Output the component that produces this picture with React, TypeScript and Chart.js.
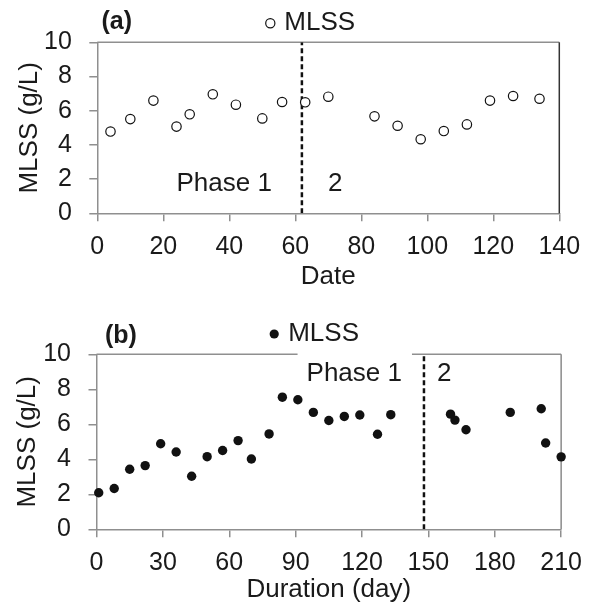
import React, { useEffect, useRef } from 'react';
import { Chart, registerables } from 'chart.js';

Chart.register(...registerables);

// ---------- data ----------
const DAYS_A = [4, 10, 17, 24, 28, 35, 42, 50, 56, 63, 70, 84, 91, 98, 105, 112, 119, 126, 134];
const MLSS_A = [4.78, 5.51, 6.59, 5.07, 5.79, 6.96, 6.35, 5.55, 6.51, 6.49, 6.82, 5.67, 5.12, 4.33, 4.81, 5.2, 6.59, 6.86, 6.7];
const BOUNDARY_A = 62;

const DAYS_B = [1, 8, 15, 22, 29, 36, 43, 50, 57, 64, 70, 78, 84, 91, 98, 105, 112, 119, 127, 133, 160, 162, 167, 187, 201, 203, 210];
const MLSS_B = [2.09, 2.33, 3.43, 3.64, 4.89, 4.42, 3.03, 4.15, 4.5, 5.07, 4.02, 5.45, 7.55, 7.4, 6.68, 6.22, 6.45, 6.53, 5.43, 6.55, 6.58, 6.24, 5.69, 6.68, 6.89, 4.93, 4.14];
const BOUNDARY_B = 148;

const Y_MIN = 0;
const Y_MAX = 10;
const Y_STEP = 2;
const X_MAX_A = 140;
const X_STEP_A = 20;
const X_MAX_B = 210;
const X_STEP_B = 30;

const SERIES_LABEL = 'MLSS';
const Y_TITLE = 'MLSS (g/L)';
const X_TITLE_A = 'Date';
const X_TITLE_B = 'Duration (day)';
const PHASE_LABELS = ['Phase 1', '2'];

// ---------- styling ----------
const FONT = '"Liberation Sans", Arial, Helvetica, sans-serif';
const TEXT = '#1a1a1a';
const AXIS = '#8f8f8f';

type Panel = {
  tag: string;
  days: number[];
  mlss: number[];
  boundary: number;
  xMax: number;
  xStep: number;
  xTitle: string;
  filled: boolean;
  height: number;
  padTop: number;
  padRight: number;
  yAxisW: number;
  xAxisH: number;
  yTitlePad: number;
  xTitlePad: number;
  rightColor: string;
  tagPos: [number, number];
  legendPos: [number, number];
  phaseY: number;
  phaseLeftGap: number;
  phaseRightGap: number;
  phaseBox: boolean;
};

const PANELS: Panel[] = [
  {
    tag: '(a)', days: DAYS_A, mlss: MLSS_A, boundary: BOUNDARY_A,
    xMax: X_MAX_A, xStep: X_STEP_A, xTitle: X_TITLE_A, filled: false,
    height: 300, padTop: 42.3, padRight: 593 - 559.3, yAxisW: 97.3, xAxisH: 300 - 213.3,
    yTitlePad: 14.4, xTitlePad: 8, rightColor: '#333333',
    tagPos: [101.5, 22.5], legendPos: [270.3, 23.3],
    phaseY: 1.74, phaseLeftGap: 30, phaseRightGap: 26, phaseBox: false,
  },
  {
    tag: '(b)', days: DAYS_B, mlss: MLSS_B, boundary: BOUNDARY_B,
    xMax: X_MAX_B, xStep: X_STEP_B, xTitle: X_TITLE_B, filled: true,
    height: 306, padTop: 54.3, padRight: 593 - 562.5, yAxisW: 96.5, xAxisH: 306 - 229.3,
    yTitlePad: 12.7, xTitlePad: 0.5, rightColor: '#8a8a8a',
    tagPos: [105, 36.3], legendPos: [274.2, 34],
    phaseY: 8.9, phaseLeftGap: 22, phaseRightGap: 13, phaseBox: true,
  },
];

function makeDecor(p: Panel) {
  return {
    id: 'decor' + p.tag,
    beforeDatasetsDraw(chart: any) {
      const { ctx, chartArea } = chart;
      const { left, top, right, bottom } = chartArea;
      const xs = chart.scales.x;
      const ys = chart.scales.y;
      ctx.save();
      // top & right frame
      ctx.lineWidth = 1.5;
      ctx.strokeStyle = AXIS;
      ctx.beginPath();
      ctx.moveTo(left, top);
      ctx.lineTo(right, top);
      ctx.stroke();
      ctx.strokeStyle = p.rightColor;
      ctx.beginPath();
      ctx.moveTo(right, top);
      ctx.lineTo(right, bottom);
      ctx.stroke();

      // phase labels
      const bx = xs.getPixelForValue(p.boundary);
      const py = ys.getPixelForValue(p.phaseY);
      ctx.font = `26px ${FONT}`;
      ctx.textBaseline = 'middle';
      const w1 = ctx.measureText(PHASE_LABELS[0]).width;
      const x1 = bx - p.phaseLeftGap - w1;
      if (p.phaseBox) {
        ctx.fillStyle = '#ffffff';
        ctx.fillRect(x1 - 9, top - 2, w1 + 19, py - top + 16);
      }
      ctx.fillStyle = TEXT;
      ctx.textAlign = 'left';
      ctx.fillText(PHASE_LABELS[0], x1, py);
      ctx.fillText(PHASE_LABELS[1], bx + p.phaseRightGap, py);
      ctx.restore();
    },
    afterDraw(chart: any) {
      const { ctx } = chart;
      ctx.save();
      ctx.fillStyle = TEXT;
      ctx.textBaseline = 'middle';
      ctx.textAlign = 'left';
      ctx.font = `bold 25px ${FONT}`;
      ctx.fillText(p.tag, p.tagPos[0], p.tagPos[1]);
      // legend
      const [lx, ly] = p.legendPos;
      ctx.beginPath();
      ctx.arc(lx, ly, 4.6, 0, Math.PI * 2);
      if (p.filled) {
        ctx.fillStyle = '#111111';
        ctx.fill();
      } else {
        ctx.fillStyle = '#ffffff';
        ctx.fill();
        ctx.lineWidth = 1.2;
        ctx.strokeStyle = '#111111';
        ctx.stroke();
      }
      ctx.fillStyle = TEXT;
      ctx.font = `26px ${FONT}`;
      ctx.fillText(SERIES_LABEL, lx + 14, ly - 0.5);
      ctx.restore();
    },
  };
}

function makeConfig(p: Panel): any {
  const tickFont = { family: FONT, size: 25 };
  const titleFont = { family: FONT, size: 26 };
  return {
    type: 'scatter',
    data: {
      datasets: [
        {
          label: SERIES_LABEL,
          data: p.days.map((d, i) => ({ x: d, y: p.mlss[i] })),
          pointRadius: 4.7,
          pointHoverRadius: 4.7,
          pointBackgroundColor: p.filled ? '#111111' : '#ffffff',
          pointBorderColor: '#111111',
          pointBorderWidth: p.filled ? 0 : 1.2,
          clip: false,
        },
        {
          label: 'boundary',
          type: 'line',
          data: [
            { x: p.boundary, y: Y_MIN },
            { x: p.boundary, y: Y_MAX },
          ],
          borderColor: '#111111',
          borderWidth: 2.5,
          borderDash: [5, 3],
          pointRadius: 0,
          showLine: true,
          fill: false,
        },
      ],
    },
    options: {
      animation: false,
      responsive: false,
      devicePixelRatio: 1,
      events: [],
      layout: { padding: { top: p.padTop, right: p.padRight, left: 0, bottom: 0 } },
      plugins: { legend: { display: false }, tooltip: { enabled: false } },
      scales: {
        x: {
          type: 'linear',
          min: 0,
          max: p.xMax,
          ticks: { stepSize: p.xStep, font: tickFont, color: TEXT, padding: 11, maxRotation: 0, autoSkip: false },
          grid: { drawOnChartArea: false, drawTicks: true, tickLength: 8, color: AXIS, lineWidth: 1.5 },
          border: { display: true, color: AXIS, width: 1.5 },
          title: { display: true, text: p.xTitle, font: titleFont, color: TEXT, padding: { top: 0, bottom: p.xTitlePad } },
          afterFit: (s: any) => { s.height = p.xAxisH; },
        },
        y: {
          type: 'linear',
          min: Y_MIN,
          max: Y_MAX,
          ticks: { stepSize: Y_STEP, font: tickFont, color: TEXT, padding: 17.5 },
          grid: { drawOnChartArea: false, drawTicks: true, tickLength: 8, color: AXIS, lineWidth: 1.5 },
          border: { display: true, color: AXIS, width: 1.5 },
          title: { display: true, text: Y_TITLE, font: titleFont, color: TEXT, padding: { top: p.yTitlePad, bottom: 0 } },
          afterFit: (s: any) => { s.width = p.yAxisW; },
        },
      },
    },
    plugins: [makeDecor(p)],
  };
}

function PanelChart({ panel, top }: { panel: Panel; top: number }) {
  const ref = useRef<HTMLCanvasElement | null>(null);
  useEffect(() => {
    if (!ref.current) return;
    const chart = new Chart(ref.current, makeConfig(panel));
    return () => chart.destroy();
  }, [panel]);
  return (
    <div style={{ position: 'absolute', left: 0, top, width: 593, height: panel.height }}>
      <canvas ref={ref} width={593} height={panel.height} style={{ display: 'block', width: 593, height: panel.height }} />
    </div>
  );
}

export default function App() {
  return (
    <div style={{ position: 'absolute', left: 0, top: 0, width: 593, height: 606, background: '#ffffff' }}>
      <PanelChart panel={PANELS[0]} top={0} />
      <PanelChart panel={PANELS[1]} top={300} />
    </div>
  );
}
